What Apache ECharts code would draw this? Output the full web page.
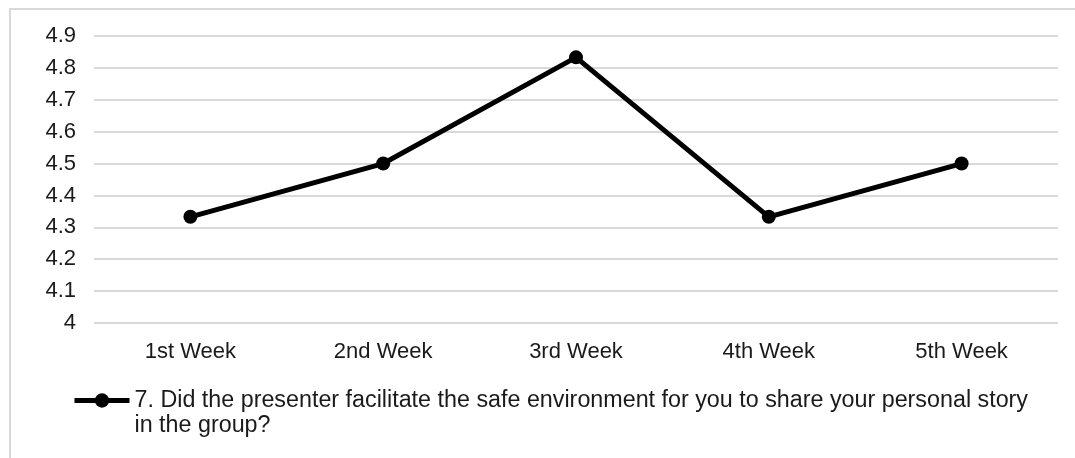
<!DOCTYPE html>
<html>
<head>
<meta charset="utf-8">
<script src="https://cdn.jsdelivr.net/npm/echarts@6/dist/echarts.min.js"></script>
<style>
  html, body { margin: 0; padding: 0; background: #ffffff; }
  #chart { width: 1075px; height: 458px; }
</style>
</head>
<body>
<div id="chart"></div>
<script>
// Weekly average answers to survey question 7
const weeks = ['1st Week', '2nd Week', '3rd Week', '4th Week', '5th Week'];
const scores = [4.333, 4.5, 4.833, 4.333, 4.5];
const seriesName = '7. Did the presenter facilitate the safe environment for you to share your personal story in the group?';
const yMin = 4.0;
const yMax = 4.9;
const yStep = 0.1;

const fontFamily = '"Liberation Sans", Arial, sans-serif';
const inkColor = '#1a1a1a';

const chart = echarts.init(document.getElementById('chart'), null, { renderer: 'canvas' });

chart.setOption({
  animation: false,
  backgroundColor: '#ffffff',
  graphic: [
    {
      // light frame around the chart area (top and left edges visible)
      type: 'rect',
      silent: true,
      shape: { x: 10, y: 9, width: 1100, height: 500 },
      style: { fill: 'none', stroke: '#d9d9d9', lineWidth: 2 }
    }
  ],
  grid: { left: 94, right: 17, top: 36, bottom: 135, containLabel: false },
  legend: {
    left: 72,
    top: 363,
    padding: 0,
    itemWidth: 55,
    itemHeight: 18,
    data: [seriesName],
    lineStyle: { width: 5, color: '#000000' },
    // a blank leading line keeps the icon level with the first text line
    formatter: function (name) {
      const cut = name.indexOf(' in the group');
      const body = cut > 0 ? name.slice(0, cut) + '\n' + name.slice(cut + 1) : name;
      return ' \n' + body;
    },
    textStyle: {
      color: inkColor,
      fontFamily: fontFamily,
      fontSize: 23.3,
      lineHeight: 25
    }
  },
  xAxis: {
    type: 'category',
    data: weeks,
    boundaryGap: true,
    axisLine: { show: false },
    axisTick: { show: false },
    axisLabel: {
      color: inkColor,
      fontFamily: fontFamily,
      fontSize: 22,
      margin: 18
    },
    splitLine: { show: false }
  },
  yAxis: {
    type: 'value',
    min: yMin,
    max: yMax,
    interval: yStep,
    axisLine: { show: false },
    axisTick: { show: false },
    axisLabel: {
      color: inkColor,
      fontFamily: fontFamily,
      fontSize: 22,
      margin: 18,
      formatter: function (v) { return String(Math.round(v * 10) / 10); }
    },
    splitLine: { lineStyle: { color: '#d9d9d9', width: 2 } }
  },
  series: [
    {
      name: seriesName,
      type: 'line',
      data: scores,
      symbol: 'circle',
      symbolSize: 14,
      lineStyle: { color: '#000000', width: 5 },
      itemStyle: { color: '#000000' }
    }
  ]
});
</script>
</body>
</html>
